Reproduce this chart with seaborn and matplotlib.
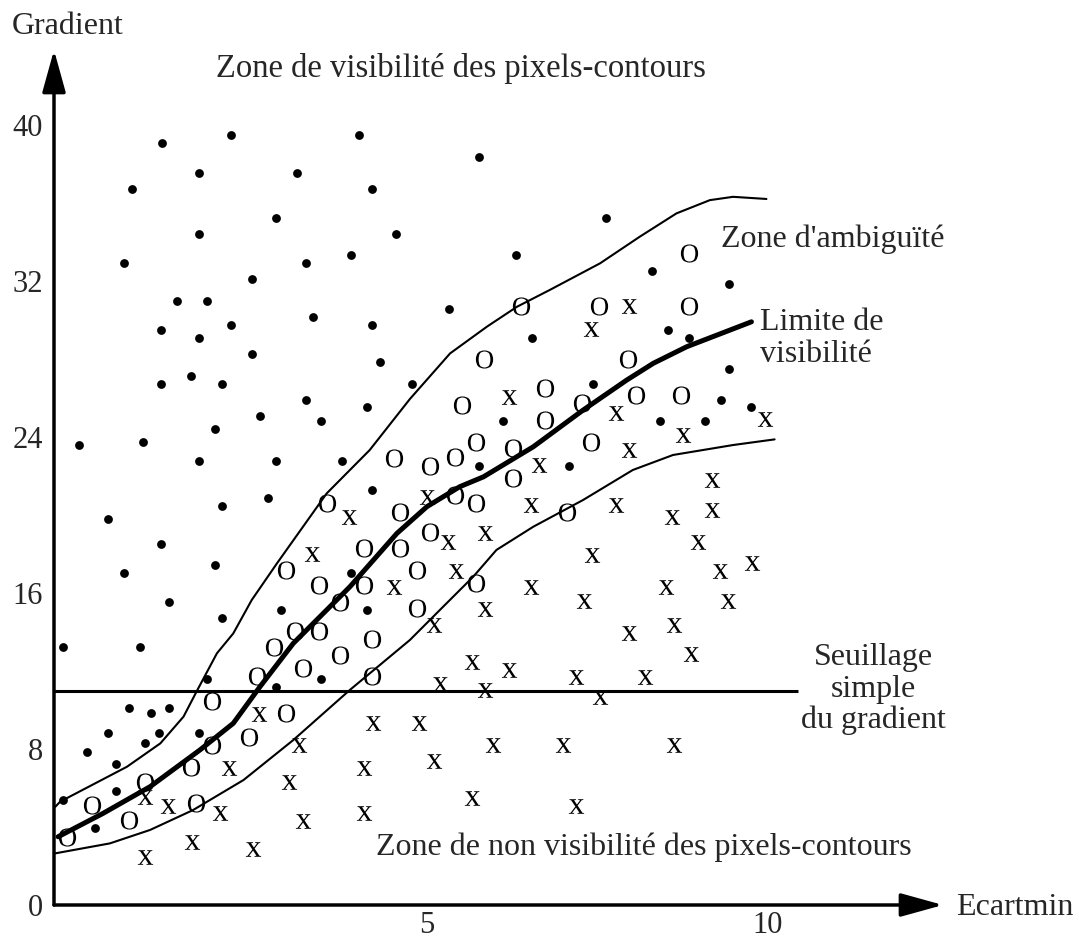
import matplotlib
matplotlib.use("Agg")
import matplotlib.pyplot as plt
import seaborn as sns
import pandas as pd

sns.set_style("white")
plt.rcParams["font.family"] = ["Liberation Serif", "DejaVu Serif"]
plt.rcParams["mathtext.fontset"] = "custom"
plt.rcParams["mathtext.rm"] = "Liberation Serif"

# ---------- data (Ecartmin, Gradient) ----------
dot_x = [1.11, 2.12, 4.00, 1.65, 3.10, 0.67, 4.19, 2.79, 1.65, 4.55, 0.56, 3.22, 3.88, 2.43,
         1.34, 1.77, 5.33, 3.33, 1.10, 2.12, 4.19, 1.65, 2.43, 4.31, 1.54, 1.10, 2.00, 4.78,
         3.22, 5.76, 7.63, 6.30, 8.30, 9.43, 6.54, 8.53, 8.85, 9.43, 7.44, 9.32, 9.75, 8.42,
         9.08, 6.11, 5.76, 7.09, 4.12, 2.55, 3.45, 1.89, -0.11, 0.83, 1.65, 2.79, 3.76, 4.19,
         2.67, 2.00, 0.32, 1.10, 1.89, 3.88, 0.56, 1.22, 2.86, 4.12, 2.00, -0.34, 0.79, 1.77,
         3.45, 2.79, 0.63, 0.95, 1.22, 0.32, 1.07, 1.65, 0.87, 0.01, 0.44, 0.44, -0.34, 0.13]
dot_y = [39.09, 39.50, 39.50, 37.55, 37.55, 36.73, 36.73, 35.25, 34.43, 34.43, 32.94, 32.94,
         33.35, 32.12, 30.99, 30.99, 30.58, 30.17, 29.50, 29.76, 29.76, 29.09, 28.27, 27.86,
         27.14, 26.73, 26.73, 26.73, 25.90, 38.37, 35.25, 33.35, 32.53, 31.83, 29.09, 29.50,
         29.09, 27.47, 26.73, 25.90, 25.52, 24.84, 24.84, 24.84, 22.51, 22.51, 25.52, 25.09,
         24.84, 24.43, 23.61, 23.76, 22.78, 22.78, 22.78, 21.28, 20.89, 20.48, 19.78, 18.53,
         17.45, 17.04, 17.04, 15.55, 15.15, 15.15, 14.74, 13.22, 13.22, 11.57, 11.57, 11.16,
         10.09, 9.83, 10.09, 8.84, 8.84, 8.84, 8.29, 7.86, 7.23, 5.84, 5.38, 3.93]

o_x = [8.85, 6.38, 7.52, 8.85, 5.84, 7.95, 6.73, 5.52, 7.28, 8.06, 8.73, 6.73, 5.72, 7.40,
       6.27, 5.41, 5.05, 4.51, 6.27, 5.41, 5.72, 4.60, 5.05, 4.60, 4.86, 7.05, 5.72, 4.86,
       3.53, 4.08, 2.94, 3.41, 4.08, 3.72, 3.06, 3.41, 2.75, 4.19, 3.72, 3.18, 2.51, 4.19,
       1.85, 2.94, 2.39, 1.85, 1.54, 0.87, 0.09, 1.61, 0.63, -0.28]
o_y = [33.42, 30.72, 30.72, 30.72, 27.98, 27.98, 26.50, 25.64, 25.73, 26.15, 26.15, 24.87,
       23.76, 23.76, 23.42, 22.96, 22.51, 22.91, 21.88, 21.03, 20.60, 20.17, 19.14, 18.29,
       17.18, 20.17, 16.50, 15.22, 20.60, 18.29, 17.18, 16.41, 16.41, 15.55, 14.05, 14.05,
       13.25, 13.65, 12.82, 12.18, 11.77, 11.74, 10.48, 9.83, 8.63, 8.21, 7.09, 6.32, 5.13,
       5.22, 4.36, 3.50]

x_x = [7.97, 7.40, 6.21, 7.77, 9.96, 8.75, 7.97, 6.64, 5.00, 6.52, 7.77, 9.18, 9.18, 8.59,
       5.31, 5.85, 8.98, 7.42, 9.77, 9.30, 5.43, 6.52, 8.51, 9.41, 5.85, 7.30, 5.11, 8.63,
       7.97, 8.87, 5.66, 6.21, 7.18, 8.20, 5.19, 5.85, 7.54, 4.88, 5.97, 6.99, 8.63, 5.11,
       5.66, 7.18, 3.86, 3.31, 4.51, 2.53, 4.21, 3.12, 2.10, 4.08, 2.98, 0.87, 1.20, 1.97,
       4.08, 3.18, 1.55, 2.45, 0.87]
x_y = [30.72, 29.55, 26.05, 25.22, 24.92, 24.10, 23.33, 22.56, 20.94, 20.51, 20.51, 21.79,
       20.26, 19.88, 18.63, 19.06, 18.63, 17.95, 17.55, 17.14, 17.14, 16.29, 16.29, 15.61,
       15.19, 15.61, 14.36, 14.36, 13.95, 12.87, 12.48, 12.05, 11.67, 11.67, 11.31, 11.01,
       10.67, 9.32, 8.21, 8.21, 8.21, 7.40, 5.47, 5.08, 19.88, 18.00, 16.32, 9.79, 9.35,
       8.21, 7.01, 7.01, 6.32, 5.55, 5.10, 4.70, 4.70, 4.32, 3.25, 2.87, 2.46]

# boundary curves
upper_x = [-0.45, -0.38, 0.60, 1.09, 1.43, 1.62, 1.92, 2.16, 2.43, 2.80, 3.53, 4.16, 4.75,
           5.34, 5.88, 6.32, 6.80, 7.54, 8.12, 8.66, 9.15, 9.49, 9.98]
upper_y = [5.04, 5.30, 7.09, 8.29, 9.66, 10.94, 12.91, 13.93, 15.64, 17.52, 21.11, 23.33,
           25.95, 28.29, 29.66, 30.68, 31.54, 32.91, 34.27, 35.47, 36.15, 36.32, 36.21]
limit_x = [-0.41, 0.25, 0.94, 1.67, 2.16, 2.55, 3.04, 3.87, 4.56, 5.00, 5.48, 5.83, 6.56,
           7.29, 7.93, 8.32, 8.81, 9.76]
limit_y = [3.50, 4.70, 6.07, 7.95, 9.32, 11.19, 13.42, 16.32, 19.06, 20.43, 21.45, 21.96,
           23.50, 25.38, 26.92, 27.78, 28.63, 29.91]
lower_x = [-0.45, 0.35, 0.94, 1.57, 2.31, 3.04, 3.87, 4.75, 5.19, 5.68, 6.02, 6.56, 7.29,
           8.02, 8.61, 9.49, 10.10]
lower_y = [2.65, 3.16, 3.85, 4.87, 6.41, 8.46, 11.03, 13.59, 15.13, 16.84, 18.21, 19.40,
           20.77, 22.31, 23.08, 23.59, 23.88]

threshold = 11.0
threshold_end = 10.44

xmin, xmax = -0.47, 12.57
ymin, ymax = 0, 43.85

W, H = 1079, 938
fig = plt.figure(figsize=(W / 100, H / 100), dpi=100)
ax = fig.add_axes([54 / W, 33 / H, 889 / W, 855 / H])

# ---------- curves ----------
for cx, cy, lw in [(upper_x, upper_y, 1.5), (lower_x, lower_y, 1.5), (limit_x, limit_y, 3.6)]:
    sns.lineplot(x=cx, y=cy, sort=False, estimator=None, color="black", linewidth=lw, ax=ax)
ax.hlines(threshold, xmin, threshold_end, color="black", linewidth=2.2)

# ---------- points ----------
sns.scatterplot(x=dot_x, y=dot_y, marker="o", s=40, color="black", linewidth=0, ax=ax)
sns.scatterplot(x=o_x, y=o_y, marker=r"$\mathrm{O}$", s=170, color="black", linewidth=0, ax=ax)
sns.scatterplot(x=x_x, y=x_y, marker=r"$\mathrm{x}$", s=120, color="black", linewidth=0, ax=ax)

# ---------- axes ----------
ax.set_xlim(xmin, xmax)
ax.set_ylim(ymin, ymax)
for s in ax.spines.values():
    s.set_visible(False)
ax.set_xticks([5, 10])
ax.set_yticks([0, 8, 16, 24, 32, 40])
ax.tick_params(axis="x", length=0, labelsize=22, pad=4)
ax.tick_params(axis="y", length=0, labelsize=22, pad=8)
ax.grid(False)

arrow = dict(arrowstyle="-|>,head_length=2.6,head_width=0.72", color="black",
             lw=2.5, shrinkA=0, shrinkB=0, mutation_scale=10)
ax.annotate("", xy=(xmax, 0), xytext=(xmin, 0), arrowprops=arrow, annotation_clip=False)
ax.annotate("", xy=(xmin, ymax), xytext=(xmin, 0), arrowprops=arrow, annotation_clip=False)


# ---------- labels ----------
def label(px, py, txt, ha="left", size=23):
    fig.text(px / W, 1 - py / H, txt, ha=ha, va="baseline", fontsize=size)


label(12, 34, "Gradient")
label(956, 915, "Ecartmin")
label(216, 77, "Zone de visibilité des pixels-contours", size=23.5)
label(721, 247, "Zone d'ambiguïté")
label(760, 330, "Limite de")
label(760, 362, "visibilité")
label(873, 665, "Seuillage", ha="center")
label(873, 697, "simple", ha="center")
label(873, 728, "du gradient", ha="center")
label(376, 855, "Zone de non visibilité des pixels-contours")

fig.savefig("out.png", dpi=100)
